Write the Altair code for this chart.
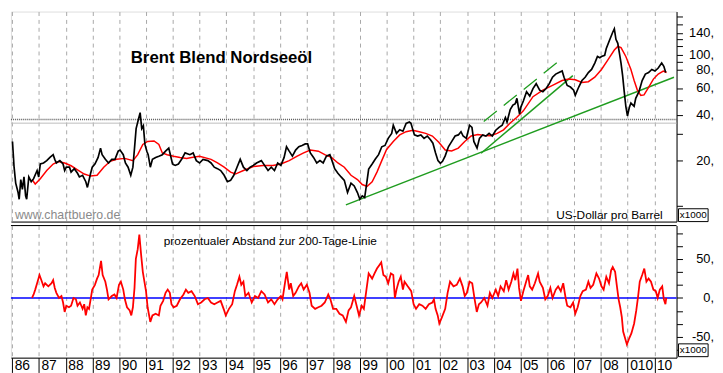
import altair as alt
import pandas as pd

# ---------------- data ----------------
# Brent price (US$ per barrel), (decimal year, value)
price = [
    (1986.01, 26.8), (1986.07, 18.1), (1986.13, 14.2), (1986.22, 12.3), (1986.26, 11.1), (1986.32, 15.0),
    (1986.38, 12.9), (1986.44, 15.6), (1986.50, 11.7), (1986.54, 11.1), (1986.62, 15.6), (1986.71, 14.5),
    (1986.80, 15.2), (1986.93, 17.2), (1986.99, 15.6),
    (1987.05, 19.0), (1987.17, 19.3), (1987.29, 20.0), (1987.41, 21.0), (1987.53, 21.9), (1987.59, 20.4),
    (1987.65, 19.3), (1987.78, 20.0), (1987.90, 19.0), (1987.96, 17.2),
    (1988.02, 18.1), (1988.14, 18.1), (1988.20, 16.8), (1988.32, 17.7), (1988.44, 16.5), (1988.51, 15.6),
    (1988.63, 16.0), (1988.75, 14.5), (1988.81, 13.3), (1988.87, 14.8), (1988.93, 16.5), (1988.99, 18.1),
    (1989.09, 19.0), (1989.21, 21.0), (1989.30, 24.2), (1989.36, 21.9), (1989.48, 20.4), (1989.60, 19.3),
    (1989.72, 20.4), (1989.84, 20.4), (1989.96, 23.1),
    (1990.03, 23.5), (1990.15, 21.9), (1990.23, 19.3), (1990.33, 18.1), (1990.43, 16.0), (1990.51, 18.1),
    (1990.57, 24.2), (1990.63, 32.6), (1990.72, 37.7), (1990.78, 41.6), (1990.84, 32.6), (1990.90, 34.0),
    (1990.96, 25.6),
    (1991.03, 23.1), (1991.08, 21.9), (1991.16, 18.1), (1991.24, 20.4), (1991.36, 21.0), (1991.48, 21.4),
    (1991.61, 21.9), (1991.73, 23.1), (1991.85, 24.2), (1991.91, 21.9), (1991.99, 19.0),
    (1992.09, 18.6), (1992.21, 19.0), (1992.33, 20.4), (1992.46, 22.5), (1992.64, 21.9), (1992.76, 22.5),
    (1992.88, 20.0),
    (1993.00, 19.3), (1993.13, 20.4), (1993.31, 20.0), (1993.43, 19.3), (1993.55, 18.1), (1993.67, 17.7),
    (1993.79, 17.2), (1993.92, 16.0),
    (1994.04, 14.5), (1994.16, 14.8), (1994.28, 16.0), (1994.40, 18.1), (1994.52, 20.4), (1994.64, 18.1),
    (1994.77, 17.2), (1994.89, 18.1),
    (1995.01, 18.6), (1995.13, 19.3), (1995.31, 20.0), (1995.43, 18.6), (1995.56, 17.2), (1995.68, 18.1),
    (1995.80, 17.2), (1995.92, 19.3),
    (1996.04, 18.6), (1996.16, 21.0), (1996.25, 24.7), (1996.35, 23.1), (1996.47, 21.4), (1996.59, 23.5),
    (1996.71, 24.7), (1996.83, 25.2), (1996.95, 25.8),
    (1997.04, 25.8), (1997.14, 22.5), (1997.26, 21.0), (1997.38, 19.3), (1997.50, 20.0), (1997.62, 19.3),
    (1997.74, 21.4), (1997.87, 21.9), (1997.95, 20.0),
    (1998.05, 17.7), (1998.17, 16.5), (1998.29, 15.6), (1998.41, 14.8), (1998.53, 12.3), (1998.66, 14.2),
    (1998.78, 13.6), (1998.90, 12.3), (1998.99, 11.1),
    (1999.08, 11.7), (1999.17, 11.4), (1999.24, 13.9), (1999.32, 17.6), (1999.45, 19.0), (1999.57, 20.5),
    (1999.69, 21.9), (1999.81, 24.7), (1999.93, 25.2),
    (2000.05, 28.1), (2000.18, 30.3), (2000.24, 34.3), (2000.36, 30.3), (2000.48, 32.0), (2000.60, 31.3),
    (2000.72, 35.3), (2000.84, 36.0), (2000.90, 35.3),
    (2001.03, 29.6), (2001.15, 29.1), (2001.27, 29.6), (2001.39, 28.1), (2001.51, 29.1), (2001.63, 27.5),
    (2001.72, 26.1), (2001.82, 22.5), (2001.91, 20.0),
    (2002.00, 19.2), (2002.08, 19.8), (2002.18, 21.5), (2002.30, 24.7), (2002.42, 26.7), (2002.55, 29.1),
    (2002.67, 29.6), (2002.77, 31.1), (2002.85, 29.1), (2002.97, 28.1),
    (2003.09, 34.3), (2003.18, 33.2), (2003.25, 26.8), (2003.37, 24.2), (2003.46, 28.1), (2003.58, 29.6),
    (2003.70, 29.1), (2003.82, 30.3), (2003.94, 29.1),
    (2004.07, 31.8), (2004.19, 33.2), (2004.31, 34.3), (2004.43, 38.6), (2004.49, 36.0), (2004.61, 43.6),
    (2004.71, 46.6), (2004.80, 47.7), (2004.86, 51.7), (2004.92, 44.6), (2004.96, 40.6),
    (2005.00, 44.9), (2005.10, 49.6), (2005.22, 57.2), (2005.34, 53.5), (2005.46, 60.0), (2005.58, 64.6),
    (2005.71, 58.5), (2005.83, 57.2), (2005.95, 60.0),
    (2006.07, 64.6), (2006.19, 71.3), (2006.31, 74.8), (2006.43, 76.6), (2006.55, 78.4), (2006.62, 71.3),
    (2006.74, 62.9), (2006.86, 61.4), (2006.98, 58.5),
    (2007.04, 54.1), (2007.17, 61.4), (2007.29, 67.8), (2007.41, 71.3), (2007.53, 76.6), (2007.65, 80.3),
    (2007.77, 88.5), (2007.87, 97.8), (2007.96, 96.0),
    (2008.02, 97.8), (2008.14, 99.6), (2008.20, 110.6), (2008.32, 125.4), (2008.44, 141.5), (2008.50, 148.9),
    (2008.56, 127.0), (2008.63, 119.5), (2008.69, 102.8), (2008.75, 88.5), (2008.81, 73.0), (2008.87, 57.2),
    (2008.93, 45.8), (2008.99, 39.5),
    (2009.06, 44.9), (2009.12, 48.1), (2009.24, 45.8), (2009.30, 51.7), (2009.42, 57.2), (2009.54, 67.8),
    (2009.66, 74.8), (2009.78, 76.6), (2009.90, 80.3),
    (2010.02, 78.4), (2010.14, 82.0), (2010.27, 88.5), (2010.35, 84.3), (2010.42, 76.6),
]

# 200-day moving average (red line, top panel)
ma200 = [
    (1986.74, 15.0), (1986.86, 14.0), (1987.05, 15.2), (1987.29, 17.2), (1987.53, 19.0), (1987.72, 19.7),
    (1987.96, 19.3), (1988.20, 18.5), (1988.44, 17.4), (1988.69, 16.3), (1988.93, 15.8), (1989.17, 16.0),
    (1989.42, 18.1), (1989.66, 19.8), (1989.90, 20.4), (1990.21, 20.7), (1990.51, 20.0), (1990.69, 21.9),
    (1990.88, 25.6), (1991.06, 26.8), (1991.30, 27.0), (1991.48, 25.6), (1991.61, 22.5), (1991.79, 21.9),
    (1992.03, 21.4), (1992.27, 21.0), (1992.52, 20.7), (1992.70, 21.0), (1993.00, 21.4), (1993.43, 20.4),
    (1993.67, 19.3), (1993.92, 18.1), (1994.16, 16.8), (1994.34, 16.3), (1994.64, 17.2), (1995.01, 18.3),
    (1995.37, 18.6), (1995.74, 18.6), (1996.04, 19.0), (1996.35, 20.0), (1996.65, 21.4), (1996.89, 22.5),
    (1997.14, 23.5), (1997.44, 23.1), (1997.68, 21.9), (1997.93, 21.0), (1998.17, 19.3), (1998.41, 18.1),
    (1998.66, 16.0), (1998.90, 15.0), (1999.08, 13.9), (1999.26, 13.5), (1999.45, 14.5), (1999.63, 16.8),
    (1999.81, 20.0), (1999.99, 23.7), (2000.24, 26.8), (2000.48, 29.6), (2000.72, 31.1), (2000.97, 31.8),
    (2001.21, 31.1), (2001.45, 30.3), (2001.70, 29.1), (2001.94, 26.5), (2002.18, 23.5), (2002.42, 23.2),
    (2002.67, 24.2), (2002.91, 26.8), (2003.15, 29.1), (2003.40, 29.8), (2003.64, 29.3), (2003.88, 29.2),
    (2004.12, 30.3), (2004.36, 32.0), (2004.61, 35.5), (2004.85, 38.6), (2005.10, 42.7), (2005.46, 53.0),
    (2005.83, 58.6), (2006.19, 63.0), (2006.55, 67.8), (2006.80, 69.3), (2007.04, 68.6), (2007.29, 65.9),
    (2007.53, 66.6), (2007.77, 71.3), (2008.02, 80.3), (2008.26, 93.0), (2008.50, 108.0), (2008.63, 114.0),
    (2008.75, 112.0), (2008.93, 97.8), (2009.12, 80.3), (2009.24, 67.8), (2009.36, 58.6), (2009.49, 54.1),
    (2009.61, 54.5), (2009.78, 61.0), (2009.96, 69.3), (2010.14, 74.8), (2010.33, 78.4), (2010.45, 76.6),
]

# percentage distance to the 200-day line (bottom panel)
pct200 = [
    (1986.74, 0.0), (1986.80, 4.6), (1986.86, 10.8), (1986.93, 19.0), (1987.02, 29.6), (1987.11, 21.0),
    (1987.17, 15.0), (1987.23, 19.0), (1987.35, 15.0), (1987.47, 19.0), (1987.53, 23.0), (1987.59, 13.0),
    (1987.65, 6.7), (1987.75, 0.0), (1987.84, 2.5), (1987.90, -5.8), (1987.96, -18.0), (1988.02, -10.0),
    (1988.12, -12.0), (1988.20, -10.0), (1988.29, 0.0), (1988.38, -1.7), (1988.44, -10.0), (1988.53, -5.8),
    (1988.63, -14.0), (1988.69, -8.0), (1988.75, -22.5), (1988.81, -12.0), (1988.87, -14.0), (1988.93, -1.7),
    (1988.99, 10.8), (1989.09, 17.0), (1989.17, 25.0), (1989.23, 29.6), (1989.32, 48.0), (1989.38, 29.6),
    (1989.48, 21.0), (1989.54, 10.8), (1989.60, -1.7), (1989.72, 2.5), (1989.82, 4.6), (1989.90, 0.0),
    (1989.99, 17.0), (1990.06, 21.0), (1990.15, 10.8), (1990.21, -1.7), (1990.29, -12.0), (1990.39, -16.0),
    (1990.45, -22.5), (1990.51, -12.0), (1990.57, 13.0), (1990.62, 50.4), (1990.69, 63.0), (1990.75, 81.7),
    (1990.82, 54.6), (1990.88, 33.8), (1990.94, 21.0), (1991.00, 8.8), (1991.06, -12.0), (1991.16, -30.8),
    (1991.24, -22.5), (1991.36, -20.4), (1991.48, -22.5), (1991.54, -10.0), (1991.64, -3.7), (1991.73, 6.7),
    (1991.81, 10.8), (1991.89, 6.7), (1991.95, -8.0), (1992.03, -12.0), (1992.15, -10.0), (1992.27, -1.7),
    (1992.40, 4.6), (1992.49, 10.8), (1992.58, 6.7), (1992.70, 8.8), (1992.82, 2.5), (1992.94, -8.0),
    (1993.06, -5.8), (1993.19, -1.7), (1993.31, 0.0), (1993.43, -5.8), (1993.55, -8.0), (1993.67, -5.8),
    (1993.79, -3.7), (1993.92, -16.0), (1993.98, -22.5), (1994.10, -14.0), (1994.22, -8.0), (1994.32, 8.8),
    (1994.40, 17.0), (1994.49, 27.5), (1994.56, 17.0), (1994.64, 21.0), (1994.71, 2.5), (1994.83, 6.7),
    (1994.95, -5.8), (1995.07, 2.5), (1995.19, 0.0), (1995.31, 8.8), (1995.43, 4.6), (1995.56, -5.8),
    (1995.68, -1.7), (1995.80, -8.0), (1995.92, -1.7), (1996.04, 2.5), (1996.10, -1.7), (1996.19, 19.0),
    (1996.26, 33.8), (1996.35, 10.8), (1996.41, 19.0), (1996.50, 2.5), (1996.59, 6.7), (1996.71, 15.0),
    (1996.80, 19.0), (1996.89, 10.8), (1997.01, 17.0), (1997.11, 6.7), (1997.19, -10.0), (1997.32, -14.0),
    (1997.44, -12.0), (1997.56, -10.0), (1997.68, -5.8), (1997.81, 4.6), (1997.89, -1.7), (1997.99, -14.0),
    (1998.11, -14.0), (1998.23, -20.4), (1998.35, -22.5), (1998.47, -30.8), (1998.57, -16.0), (1998.66, -12.0),
    (1998.78, 2.5), (1998.84, -5.8), (1998.96, -22.5), (1999.06, -10.0), (1999.14, -14.0), (1999.23, 8.8),
    (1999.32, 31.7), (1999.45, 25.0), (1999.54, 31.7), (1999.63, 38.0), (1999.71, 42.0), (1999.79, 46.0),
    (1999.87, 29.6), (1999.96, 27.5), (2000.05, 19.0), (2000.15, 31.7), (2000.24, 29.6), (2000.30, 0.0),
    (2000.36, 10.8), (2000.44, 21.0), (2000.52, 27.5), (2000.60, 10.8), (2000.66, 21.0), (2000.78, 15.0),
    (2000.91, 8.8), (2001.00, -8.0), (2001.09, -14.0), (2001.21, -8.0), (2001.33, -10.0), (2001.45, -14.0),
    (2001.57, -8.0), (2001.70, -5.8), (2001.76, -1.7), (2001.82, -14.0), (2001.90, -22.5), (2001.96, -32.9),
    (2002.06, -24.6), (2002.18, -14.0), (2002.27, 6.7), (2002.36, 21.0), (2002.49, 15.0), (2002.61, 17.0),
    (2002.73, 25.0), (2002.83, 15.0), (2002.91, 2.5), (2002.99, 6.7), (2003.09, 21.0), (2003.19, 19.0),
    (2003.28, -1.7), (2003.36, -18.0), (2003.44, -8.0), (2003.52, -5.8), (2003.64, 0.0), (2003.76, -10.0),
    (2003.85, 6.7), (2003.94, 0.0), (2004.07, 10.8), (2004.16, 2.5), (2004.25, 15.0), (2004.37, 8.8),
    (2004.46, 23.0), (2004.55, 10.8), (2004.65, 21.0), (2004.73, 31.7), (2004.80, 23.0), (2004.88, 38.0),
    (2004.94, 13.0), (2005.01, -3.7), (2005.10, 8.8), (2005.22, 23.0), (2005.28, 29.6), (2005.34, 15.0),
    (2005.43, 10.8), (2005.53, 19.0), (2005.65, 31.7), (2005.71, 21.0), (2005.83, 13.0), (2005.92, -1.7),
    (2006.01, 2.5), (2006.11, 13.0), (2006.19, 0.0), (2006.31, 10.8), (2006.40, 15.0), (2006.50, 8.8),
    (2006.59, 19.0), (2006.68, 0.0), (2006.74, -10.0), (2006.86, -12.0), (2006.96, -5.8), (2007.04, -20.4),
    (2007.13, -12.0), (2007.23, 2.5), (2007.32, 8.8), (2007.44, 10.8), (2007.53, 21.0), (2007.61, 13.0),
    (2007.71, 17.0), (2007.83, 31.7), (2007.93, 25.0), (2008.02, 15.0), (2008.10, 10.8), (2008.20, 27.5),
    (2008.30, 19.0), (2008.38, 35.8), (2008.44, 40.0), (2008.53, 33.8), (2008.59, 17.0), (2008.66, -1.7),
    (2008.72, -12.0), (2008.78, -24.6), (2008.83, -43.3), (2008.90, -51.7), (2008.97, -60.0), (2009.06, -51.7),
    (2009.14, -45.4), (2009.24, -32.9), (2009.32, -16.0), (2009.39, 2.5), (2009.45, 21.0), (2009.54, 29.6),
    (2009.62, 38.0), (2009.70, 21.0), (2009.78, 25.0), (2009.87, 21.0), (2009.96, 10.8), (2010.05, 8.8),
    (2010.12, 0.0), (2010.20, 10.8), (2010.29, 15.0), (2010.35, -1.7), (2010.41, -8.0), (2010.44, 0.0),
]

# green trend lines (two end points each)
trend_long = [(1998.47, 10.2), (2010.73, 71.3)]
trend_steep = [(2003.52, 22.4), (2006.95, 73.0)]
trend_channel = [(2003.62, 36.3), (2006.47, 92.4)]

# horizontal resistance lines (US$)
line_dotted = [37.4]
line_solid = [35.4]

year_ticks = list(range(1986, 2011))
price_ticks = [10, 20, 30, 40, 50, 60, 80, 90, 100, 115, 128, 140, 160, 180]
price_labelled = [20, 40, 60, 80, 100, 140]
pct_ticks = [-66.6667, -50, -33.3333, -16.6667, 0, 16.6667, 33.3333, 50, 66.6667, 83.3333]
pct_labelled = [-50, 0, 50]

title_text = "Brent Blend Nordseeöl"
source_text = "www.chartbuero.de"
unit_text = "US-Dollar pro Barrel"
lower_text = "prozentualer Abstand zur 200-Tage-Linie"
factor_text = "x1000"

# ---------------- layout ----------------
W, H1, H2 = 675, 213, 134
XDOM = [1985.953, 2010.825]
YDOM = [7.9, 194]
PDOM = [-77, 93.5]
FONT = "Liberation Sans"
NARROW = "Liberation Sans Narrow, Liberation Sans, sans-serif"

xs = alt.Scale(domain=XDOM, nice=False, zero=False)
ys = alt.Scale(type="log", domain=YDOM, nice=False)
ps = alt.Scale(domain=PDOM, nice=False, zero=False)

grid_kw = dict(grid=True, gridColor="#a8a8a8", gridDash=[4, 4], gridWidth=1)

x_top_axis = alt.Axis(values=year_ticks, tickCount=40, labels=False, ticks=False, domain=True,
                      domainColor="black", domainWidth=1, title=None, **grid_kw)
x_bot_axis = alt.Axis(values=year_ticks, tickCount=40, title=None, domain=True, domainColor="black",
                      domainWidth=1, ticks=True, tickColor="black", tickSize=15,
                      labelAlign="left", labelBaseline="top", labelPadding=-14, labelOffset=2,
                      labelFont=NARROW, labelFontSize=14, labelColor="black",
                      labelExpr="datum.value == 2009 ? '010' : substring(toString(datum.value), 2, 4)",
                      labelFlush=False, labelOverlap=False, labelBound=False, **grid_kw)
y_top_axis = alt.Axis(orient="right", values=price_ticks, tickCount=40, title=None, grid=False,
                      domainColor="black", tickColor="black", tickSize=6, labels=False)
y_bot_axis = alt.Axis(orient="right", values=pct_ticks, tickCount=40, title=None, grid=False,
                      domainColor="black", tickColor="black", tickSize=6, labels=False)


def pairs(data, col):
    return pd.DataFrame(data, columns=["year", col])


X_top = alt.X("year:Q", scale=xs, axis=x_top_axis)
Y_top = alt.Y("usd:Q", scale=ys, axis=y_top_axis)
X_bot = alt.X("year:Q", scale=xs, axis=x_bot_axis)
Y_bot = alt.Y("pct:Q", scale=ps, axis=y_bot_axis)

# ---- top panel ----
solid_rule = alt.Chart(pd.DataFrame({"usd": line_solid})).mark_rule(
    color="#bdbdbd", strokeWidth=1).encode(y=Y_top)
dotted_rule = alt.Chart(pd.DataFrame({"usd": line_dotted})).mark_rule(
    color="#5a5a5a", strokeWidth=1.6, strokeDash=[1, 1]).encode(y=Y_top)

price_line = alt.Chart(pairs(price, "usd")).mark_line(
    color="black", strokeWidth=1.7).encode(x=X_top, y=Y_top)
ma_line = alt.Chart(pairs(ma200, "usd")).mark_line(
    color="#ff0000", strokeWidth=1.5).encode(x=X_top, y=Y_top)

tl = pairs(trend_long, "usd").assign(seg="long")
ts = pairs(trend_steep, "usd").assign(seg="steep")
trend_solid = alt.Chart(pd.concat([tl, ts])).mark_line(
    color="#1f9c1f", strokeWidth=1.5).encode(x=X_top, y=Y_top, detail="seg:N")
trend_dash = alt.Chart(pairs(trend_channel, "usd")).mark_line(
    color="#1f9c1f", strokeWidth=1.3, strokeDash=[17, 9]).encode(x=X_top, y=Y_top)

price_axis_labels = alt.Chart(pd.DataFrame({
    "usd": price_labelled, "lab": [str(v) + "," for v in price_labelled]
})).mark_text(font=FONT, fontSize=13, align="right", baseline="middle", color="black").encode(
    x=alt.value(W + 38), y=Y_top, text="lab:N")

title_mark = alt.Chart(pd.DataFrame({"t": [title_text]})).mark_text(
    font=FONT, fontSize=17, fontWeight="bold", align="left", baseline="alphabetic", color="black"
).encode(x=alt.value(121.5), y=alt.value(52.5), text="t:N")
source_mark = alt.Chart(pd.DataFrame({"t": [source_text]})).mark_text(
    font=FONT, fontSize=12.5, align="left", baseline="alphabetic", color="#8a8a8a"
).encode(x=alt.value(4), y=alt.value(H1 - 3), text="t:N")
unit_mark = alt.Chart(pd.DataFrame({"t": [unit_text]})).mark_text(
    font=FONT, fontSize=12, align="right", baseline="alphabetic", color="black"
).encode(x=alt.value(661), y=alt.value(H1 - 3), text="t:N")

box_top = alt.Chart(pd.DataFrame({"t": [factor_text]})).mark_rect(
    fill="white", stroke="black", strokeWidth=1
).encode(x=alt.value(W + 2), x2=alt.value(W + 32), y=alt.value(H1 - 13), y2=alt.value(H1))
box_top_text = alt.Chart(pd.DataFrame({"t": [factor_text]})).mark_text(
    font=FONT, fontSize=10, align="center", baseline="middle", color="black"
).encode(x=alt.value(W + 17), y=alt.value(H1 - 6.5), text="t:N")

top = alt.layer(
    solid_rule, dotted_rule, trend_solid, trend_dash, ma_line, price_line, price_axis_labels,
    title_mark, source_mark, unit_mark, box_top, box_top_text
).properties(width=W, height=H1)

# ---- bottom panel ----
zero_rule = alt.Chart(pd.DataFrame({"pct": [0]})).mark_rule(
    color="#0000ff", strokeWidth=1.5).encode(y=Y_bot)
pct_line = alt.Chart(pairs(pct200, "pct")).mark_line(
    color="#ff0000", strokeWidth=1.8).encode(x=X_bot, y=Y_bot)
pct_axis_labels = alt.Chart(pd.DataFrame({
    "pct": pct_labelled, "lab": [str(v) + "," for v in pct_labelled]
})).mark_text(font=FONT, fontSize=13, align="right", baseline="middle", color="black").encode(
    x=alt.value(W + 38), y=Y_bot, text="lab:N")
top_border = alt.Chart(pd.DataFrame({"t": [0]})).mark_rule(
    color="black", strokeWidth=1).encode(x=alt.value(0), x2=alt.value(W), y=alt.value(0))
lower_mark = alt.Chart(pd.DataFrame({"t": [lower_text]})).mark_text(
    font=FONT, fontSize=12, align="left", baseline="alphabetic", color="black"
).encode(x=alt.value(155), y=alt.value(20), text="t:N")
box_bot = alt.Chart(pd.DataFrame({"t": [factor_text]})).mark_rect(
    fill="white", stroke="black", strokeWidth=1
).encode(x=alt.value(W + 2), x2=alt.value(W + 32), y=alt.value(H2 - 14), y2=alt.value(H2 - 1))
box_bot_text = alt.Chart(pd.DataFrame({"t": [factor_text]})).mark_text(
    font=FONT, fontSize=10, align="center", baseline="middle", color="black"
).encode(x=alt.value(W + 17), y=alt.value(H2 - 7.5), text="t:N")

bottom = alt.layer(
    zero_rule, pct_line, pct_axis_labels, top_border, lower_mark, box_bot, box_bot_text
).properties(width=W, height=H2)

chart = alt.vconcat(top, bottom, spacing=2, padding=0).configure_view(
    stroke="transparent"
).configure(background="white")

chart.save("out.html", embed_options={"renderer": "svg", "actions": False})
